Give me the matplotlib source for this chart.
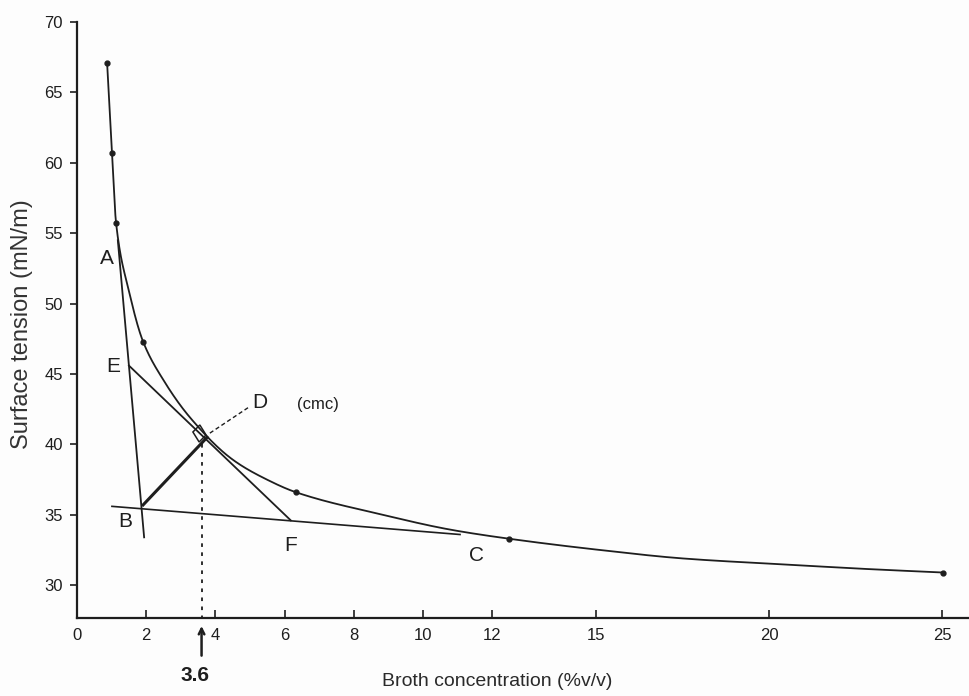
import matplotlib
matplotlib.use("Agg")
import numpy as np
import matplotlib.pyplot as plt
from matplotlib.patches import Polygon

plt.rcParams['font.family'] = ['Liberation Sans', 'DejaVu Sans']

# measured data points (Broth concentration %v/v, surface tension mN/m)
conc = [0.87, 1.01, 1.13, 1.91, 6.33, 12.49, 25.03]
tension = [67.1, 60.7, 55.7, 47.3, 36.6, 33.3, 30.9]

# hand-drawn curve through the points
curve_x = [0.87, 1.01, 1.13, 1.50, 1.91, 2.49, 3.27, 4.51, 5.49, 6.33,
           8.84, 10.78, 12.49, 15.12, 17.51, 20.61, 22.83, 25.03]
curve_y = [67.1, 60.7, 55.7, 50.9, 47.3, 44.6, 41.9, 38.9, 37.5, 36.6,
           35.0, 33.95, 33.3, 32.5, 31.9, 31.45, 31.15, 30.9]

# construction lines
line_AB_x = [1.18, 1.94]
line_AB_y = [54.5, 33.4]
line_EF_x = [1.50, 6.18]
line_EF_y = [45.6, 34.6]
line_BC_x = [1.01, 11.07]
line_BC_y = [35.6, 33.6]
line_BD_x = [1.91, 3.76]
line_BD_y = [35.7, 40.5]
cmc_value = 3.6
cmc_tension = 40.0
square_x = [3.35, 3.55, 3.73, 3.53]
square_y = [40.88, 41.38, 40.67, 40.17]
leader_x = [3.84, 5.0]
leader_y = [40.8, 42.7]

xticks = [0, 2, 4, 6, 8, 10, 12, 15, 20, 25]
xtick_labels = ['0', '2', '4', '6', '8', '10', '12', '15', '20', '25']
yticks = [30, 35, 40, 45, 50, 55, 60, 65, 70]
ytick_labels = ['30', '35', '40', '45', '50', '55', '60', '65', '70']

point_labels = ['A', 'E', 'B', 'F', 'C']
point_label_x = [0.87, 1.04, 1.39, 6.18, 11.56]
point_label_y = [53.2, 45.5, 34.5, 32.85, 32.1]


def pchip_draw(x, y, n=40):
    """Monotone cubic rendering of the hand-drawn curve between read points."""
    x = np.asarray(x, float)
    y = np.asarray(y, float)
    h = np.diff(x)
    d = np.diff(y) / h
    m = np.zeros_like(x)
    for k in range(1, len(x) - 1):
        if d[k - 1] * d[k] > 0:
            w1 = 2 * h[k] + h[k - 1]
            w2 = h[k] + 2 * h[k - 1]
            m[k] = (w1 + w2) / (w1 / d[k - 1] + w2 / d[k])
    m[0] = d[0]
    m[-1] = d[-1]
    xs, ys = [], []
    for k in range(len(x) - 1):
        t = np.linspace(0, 1, n, endpoint=False)
        h00 = 2 * t**3 - 3 * t**2 + 1
        h10 = t**3 - 2 * t**2 + t
        h01 = -2 * t**3 + 3 * t**2
        h11 = t**3 - t**2
        xs.append(x[k] + t * h[k])
        ys.append(h00 * y[k] + h10 * h[k] * m[k] + h01 * y[k + 1]
                  + h11 * h[k] * m[k + 1])
    xs.append([x[-1]])
    ys.append([y[-1]])
    return np.concatenate(xs), np.concatenate(ys)


W, H = 970, 696
fig = plt.figure(figsize=(W / 100, H / 100), dpi=100)
fig.patch.set_facecolor('#fdfdfd')
ax = fig.add_axes([77 / W, 1 - 618 / H, (W - 77) / W, (618 - 22) / H])
ax.set_facecolor('#fdfdfd')
ax.set_xlim(0, (W - 77) / 34.6)
ax.set_ylim(70 - (618 - 22) / 14.08, 70)

ink = '#1e1e1e'
for s in ['top', 'right']:
    ax.spines[s].set_visible(False)
for s in ['left', 'bottom']:
    ax.spines[s].set_color(ink)
    ax.spines[s].set_linewidth(1.6)

ax.set_xticks(xticks)
ax.set_xticklabels(xtick_labels)
ax.set_yticks(yticks)
ax.set_yticklabels(ytick_labels)
ax.tick_params(axis='x', direction='in', length=6, width=1.2, colors=ink,
               labelsize=12, pad=7)
ax.tick_params(axis='y', direction='out', length=5, width=1.2, colors=ink,
               labelsize=12, pad=5)

# curve and points
cx, cy = pchip_draw(curve_x, curve_y)
ax.plot(cx, cy, color=ink, lw=1.3)
ax.plot(conc, tension, 'o', color=ink, ms=3.5)

# construction lines
ax.plot(line_AB_x, line_AB_y, color=ink, lw=1.3)
ax.plot(line_EF_x, line_EF_y, color=ink, lw=1.3)
ax.plot(line_BC_x, line_BC_y, color=ink, lw=1.2)
ax.plot(line_BD_x, line_BD_y, color=ink, lw=2.2)
ax.plot([cmc_value, cmc_value], [cmc_tension, ax.get_ylim()[0]], color=ink,
        lw=1.3, ls=(0, (2, 3)))
ax.plot(leader_x, leader_y, color=ink, lw=1.0, ls=(0, (3, 2)))
ax.add_patch(Polygon(list(zip(square_x, square_y)), closed=True, fill=False,
                     edgecolor=ink, lw=1.1))

for lab, lx, ly in zip(point_labels, point_label_x, point_label_y):
    ax.text(lx, ly, lab, ha='center', va='center', fontsize=15, color=ink)
ax.text(5.29, 43.0, 'D', ha='center', va='center', fontsize=15, color=ink)
ax.text(6.97, 42.8, '(cmc)', ha='center', va='center', fontsize=12, color=ink)

# handwritten cmc annotation below axis
ax.annotate('', xy=(cmc_value, 27.3), xytext=(cmc_value, 24.8),
            annotation_clip=False,
            arrowprops=dict(arrowstyle='->', color=ink, lw=1.8))
ax.text(3.41, 23.6, '3.6', ha='center', va='center', fontsize=15,
        fontweight='bold', color=ink, clip_on=False)

fig.text(497 / W, 1 - 681 / H, 'Broth concentration (%v/v)', ha='center',
         va='center', fontsize=14, color='#2a2a2a')
fig.text(22 / W, 1 - 324 / H, 'Surface tension (mN/m)', ha='center',
         va='center', rotation=90, fontsize=17, color='#333333')

fig.savefig('out.png', dpi=100, facecolor=fig.get_facecolor())
